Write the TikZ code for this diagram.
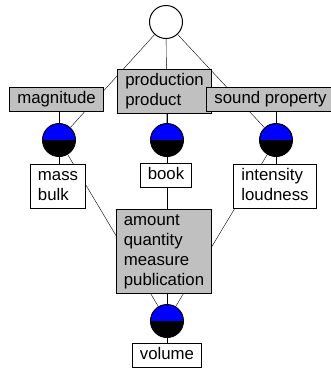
\documentclass[tikz,border=0pt]{standalone}
\usepackage{fontspec}
\setmainfont{Liberation Sans}
\usetikzlibrary{backgrounds}
\definecolor{conceptblue}{HTML}{0000FF}
\definecolor{labelgray}{HTML}{C0C0C0}
\tikzset{
  topconcept/.style={circle, draw, fill=white, line width=1pt, minimum size=33pt, inner sep=0pt},
  concept/.style={topconcept, path picture={
      \fill[conceptblue] (path picture bounding box.west) rectangle (path picture bounding box.north east);
      \fill[black] (path picture bounding box.west) rectangle (path picture bounding box.south east);}},
  attr/.style={draw, fill=labelgray, line width=1pt, align=left, inner xsep=7.5pt, inner ysep=2pt,
      font=\fontsize{16.8}{20}\selectfont},
  obj/.style={attr, fill=white}
}

\begin{document}
\begin{tikzpicture}[x=1pt, y=-1pt, line width=1pt]
            \useasboundingbox (0,0) rectangle (331,368);
            \node[topconcept] (top) at (166,22) {};
            \node[concept] (left) at (59,140) {};
            \node[concept] (mid) at (167,140) {};
            \node[concept] (right) at (276,140) {};
            \node[concept] (bottom) at (167,321) {};

            \node[attr] (magnitude) at (56.5,99) {\strut magnitude};
            \node[attr] (production) at (164.5,91) {\strut production\\\strut product};
            \node[attr] (sound) at (270.5,99) {\strut sound property};
            \node[obj] (mass) at (58,186) {\strut mass\\\strut bulk};
            \node[obj] (book) at (166,175.5) {\strut book};
            \node[obj] (intensity) at (275,186) {\strut intensity\\\strut loudness};
            \node[attr] (amount) at (164,251) {\strut amount\\\strut quantity\\\strut measure\\\strut publication};
            \node[obj, anchor=north] (volume) at (167,343) {\strut volume};

            \begin{scope}[on background layer]
                \draw (top) -- (left);
                \draw (top) -- (mid);
                \draw (top) -- (right);
                \draw (left) -- (bottom);
                \draw (mid) -- (bottom);
                \draw (right) -- (bottom);
                \draw (left) -- (left |- magnitude.south);
                \draw (mid) -- (mid |- production.south);
                \draw (right) -- (right |- sound.south);
                \draw (left) -- (left |- mass.north);
                \draw (mid) -- (mid |- book.north);
                \draw (right) -- (right |- intensity.north);
                \draw (bottom) -- (bottom |- amount.south);
                \draw (bottom) -- (bottom |- volume.north);
            \end{scope}
\end{tikzpicture}
\end{document}
